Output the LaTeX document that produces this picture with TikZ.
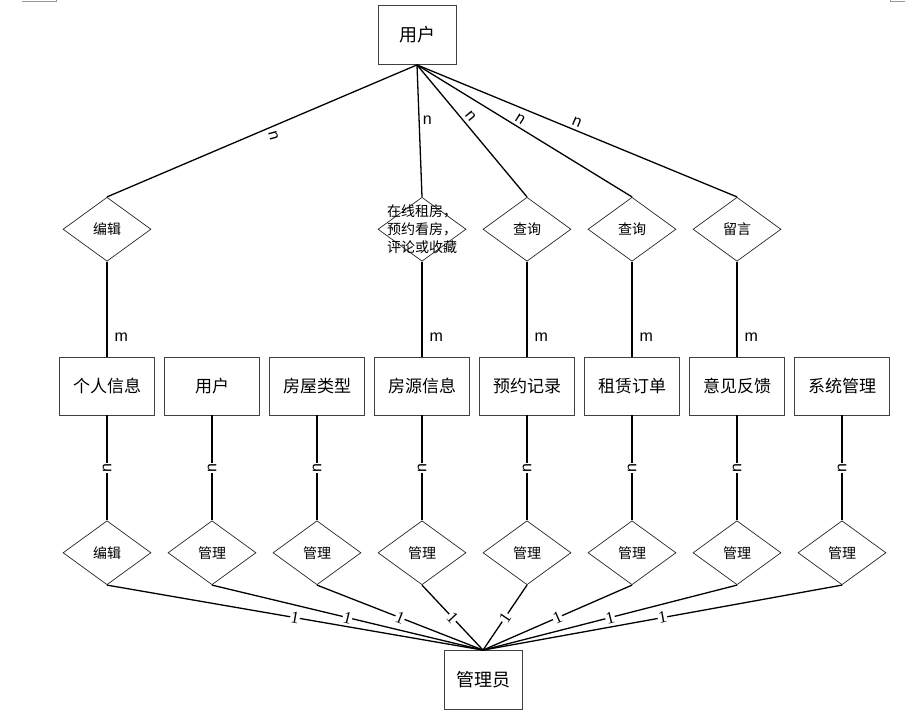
\documentclass[tikz,border=0pt]{standalone}
\usepackage{fontspec}
\setmainfont{Noto Sans CJK SC}
\newfontfamily\lblfont{Liberation Sans}
\newfontfamily\numfont{Liberation Serif}
\usetikzlibrary{shapes.geometric, positioning}

\begin{document}
\begin{tikzpicture}[
  x=1pt, y=-1pt,
  entity/.style={draw=black!75, line width=0.8pt, rectangle, minimum width=95pt, minimum height=58pt, inner sep=2pt, font=\fontsize{17}{20}\selectfont},
  actor/.style={draw=black!75, line width=0.8pt, rectangle, minimum width=78pt, minimum height=59pt, inner sep=2pt, font=\fontsize{18}{21}\selectfont},
  rel/.style={draw=black!85, line width=0.7pt, diamond, minimum width=88pt, minimum height=64pt, inner sep=0pt, font=\fontsize{14}{16}\selectfont},
  link/.style={line width=1.3pt, black},
  card/.style={font=\lblfont\fontsize{16}{18}\selectfont, inner sep=3pt},
  one/.style={font=\numfont\fontsize{17}{18}\selectfont, fill=white, inner sep=0.5pt, sloped}
]
\useasboundingbox (0,0) rectangle (905,715);

% page corner marks
\draw[black!40, line width=0.6pt] (22,1.5) -- (56,1.5) -- (56,0);
\draw[black!40, line width=0.6pt] (890,0) -- (890,1.5) -- (905,1.5);

% actors
\node[actor] (User)  at (417,35)  {用户};
\node[actor] (Admin) at (483,680) {管理员};

% entities
\node[entity] (Profile) at (107,386) {个人信息};
\node[entity] (UserInfo) [right=9.2pt of Profile]  {用户};
\node[entity] (HouseType)[right=9.2pt of UserInfo] {房屋类型};
\node[entity] (Listing)  [right=9.2pt of HouseType]{房源信息};
\node[entity] (Booking)  [right=9.2pt of Listing]  {预约记录};
\node[entity] (Order)    [right=9.2pt of Booking]  {租赁订单};
\node[entity] (Feedback) [right=9.2pt of Order]    {意见反馈};
\node[entity] (System)   [right=9.2pt of Feedback] {系统管理};

% user side relations
\node[rel] (EditRel)    [above=95pt of Profile]  {编辑};
\node[rel, label={[font=\fontsize{14}{18}\selectfont, align=center]center:{在线租房，\\预约看房，\\评论或收藏}}]
  (RentRel) [above=95pt of Listing] {};
\node[rel] (QueryBook)  [above=95pt of Booking]  {查询};
\node[rel] (QueryOrder) [above=95pt of Order]    {查询};
\node[rel] (MsgRel)     [above=95pt of Feedback] {留言};

% admin side relations
\node[rel] (EditMgr)     [below=105pt of Profile]   {编辑};
\node[rel] (MgrUser)     [below=105pt of UserInfo]  {管理};
\node[rel] (MgrType)     [below=105pt of HouseType] {管理};
\node[rel] (MgrListing)  [below=105pt of Listing]   {管理};
\node[rel] (MgrBooking)  [below=105pt of Booking]   {管理};
\node[rel] (MgrOrder)    [below=105pt of Order]     {管理};
\node[rel] (MgrFeedback) [below=105pt of Feedback]  {管理};
\node[rel] (MgrSystem)   [below=105pt of System]    {管理};

% user -> relations
\draw[link] (User.south) -- (EditRel.north) node[card, pos=0.45, below right=2pt, rotate=-75] {n};
\draw[link] (User.south) -- (RentRel.north) node[card, pos=0.42, right] {n};
\draw[link] (User.south) -- (QueryBook.north) node[card, pos=0.43, sloped, above] {n};
\draw[link] (User.south) -- (QueryOrder.north) node[card, pos=0.46, sloped, above] {n};
\draw[link] (User.south) -- (MsgRel.north) node[card, pos=0.49, sloped, above] {n};

% relations -> entities
\draw[link] (EditRel.south) -- (Profile.north) node[card, pos=0.8, right=4pt] {m};
\draw[link] (RentRel.south) -- (Listing.north) node[card, pos=0.8, right=4pt] {m};
\draw[link] (QueryBook.south) -- (Booking.north) node[card, pos=0.8, right=4pt] {m};
\draw[link] (QueryOrder.south) -- (Order.north) node[card, pos=0.8, right=4pt] {m};
\draw[link] (MsgRel.south) -- (Feedback.north) node[card, pos=0.8, right=4pt] {m};

% entities -> admin relations
\draw[link] (Profile.south) -- (EditMgr.north) node[card, midway, fill=white, inner sep=0.5pt, rotate=90] {n};
\draw[link] (UserInfo.south) -- (MgrUser.north) node[card, midway, fill=white, inner sep=0.5pt, rotate=90] {n};
\draw[link] (HouseType.south) -- (MgrType.north) node[card, midway, fill=white, inner sep=0.5pt, rotate=90] {n};
\draw[link] (Listing.south) -- (MgrListing.north) node[card, midway, fill=white, inner sep=0.5pt, rotate=90] {n};
\draw[link] (Booking.south) -- (MgrBooking.north) node[card, midway, fill=white, inner sep=0.5pt, rotate=90] {n};
\draw[link] (Order.south) -- (MgrOrder.north) node[card, midway, fill=white, inner sep=0.5pt, rotate=90] {n};
\draw[link] (Feedback.south) -- (MgrFeedback.north) node[card, midway, fill=white, inner sep=0.5pt, rotate=90] {n};
\draw[link] (System.south) -- (MgrSystem.north) node[card, midway, fill=white, inner sep=0.5pt, rotate=90] {n};

% admin relations -> admin
\draw[link] (EditMgr.south) -- (Admin.north) node[one, midway] {1};
\draw[link] (MgrUser.south) -- (Admin.north) node[one, midway] {1};
\draw[link] (MgrType.south) -- (Admin.north) node[one, midway] {1};
\draw[link] (MgrListing.south) -- (Admin.north) node[one, midway] {1};
\draw[link] (MgrBooking.south) -- (Admin.north) node[one, midway] {1};
\draw[link] (MgrOrder.south) -- (Admin.north) node[one, midway] {1};
\draw[link] (MgrFeedback.south) -- (Admin.north) node[one, midway] {1};
\draw[link] (MgrSystem.south) -- (Admin.north) node[one, midway] {1};

\end{tikzpicture}
\end{document}
